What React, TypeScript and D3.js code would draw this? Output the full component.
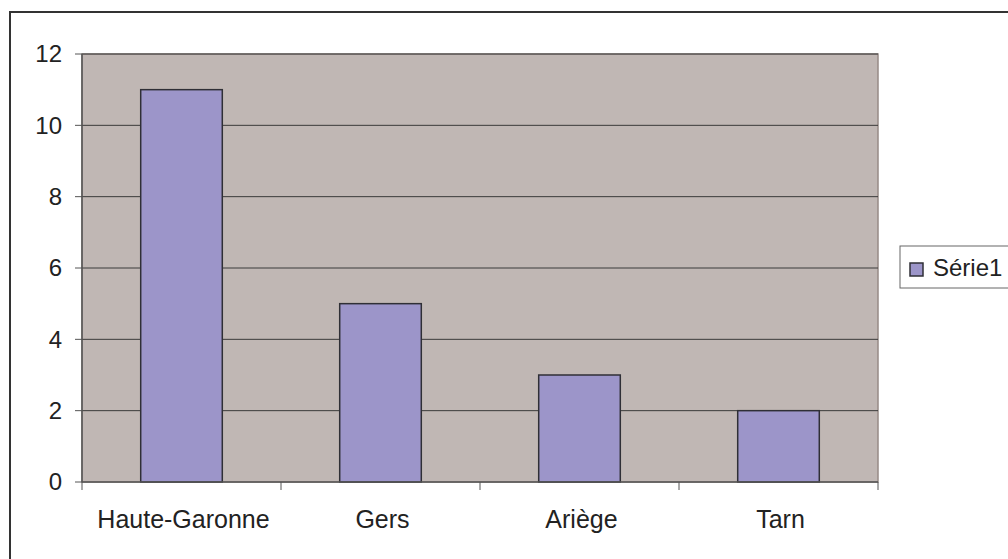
import React from 'react';
import * as d3 from 'd3';

const categories = ['Haute-Garonne', 'Gers', 'Ariège', 'Tarn'];
const values = [11, 5, 3, 2];
const yTicks = [0, 2, 4, 6, 8, 10, 12];
const seriesName = 'Série1';

const width = 1008;
const height = 559;

const plotLeft = 82;
const plotRight = 878;
const plotTop = 54;
const plotBottom = 482;

const App: React.FC = () => {
    const x = d3.scaleBand<string>()
        .domain(categories)
        .range([plotLeft, plotRight])
        .paddingInner(0.59)
        .paddingOuter(0.295);

    const xOuter = d3.scaleBand<string>().domain(categories).range([plotLeft, plotRight]);

    const y = d3.scaleLinear().domain([0, 12]).range([plotBottom, plotTop]);

    const font = '"Liberation Sans", Arial, sans-serif';
    const fontSize = 24;
    const tickEdges = [...categories.map(c => xOuter(c) as number), plotRight];

    return (
        <svg width={width} height={height} style={{ position: 'absolute', left: 0, top: 0 }}>
            <rect x={0} y={0} width={width} height={height} fill="#fff" />
            <rect x={10} y={12} width={1010} height={560} fill="#fff" stroke="#333" strokeWidth={2} />

            <rect x={plotLeft} y={plotTop} width={plotRight - plotLeft} height={plotBottom - plotTop}
                fill="#c0b7b4" stroke="#978a86" strokeWidth={1.5} />

            {yTicks.filter(t => t > 0).map(t => (
                <line key={`g${t}`} x1={plotLeft} x2={plotRight} y1={y(t)} y2={y(t)} stroke="#3a3a3a" strokeWidth={1} />
            ))}

            {categories.map((c, i) => (
                <rect key={c} x={x(c)} y={y(values[i])} width={x.bandwidth()} height={y(0) - y(values[i])}
                    fill="#9c95c9" stroke="#2f2f36" strokeWidth={1.5} />
            ))}

            {/* axes */}
            <line x1={plotLeft} x2={plotLeft} y1={plotTop} y2={plotBottom} stroke="#555" strokeWidth={1.5} />
            <line x1={plotLeft} x2={plotRight} y1={plotBottom} y2={plotBottom} stroke="#555" strokeWidth={1.5} />
            {yTicks.map(t => (
                <g key={`y${t}`}>
                    <line x1={plotLeft - 7} x2={plotLeft} y1={y(t)} y2={y(t)} stroke="#555" strokeWidth={1} />
                    <text x={62} y={y(t)} dy="0.35em" textAnchor="end" fontFamily={font} fontSize={fontSize} fill="#222">{t}</text>
                </g>
            ))}
            {tickEdges.map((e, i) => (
                <line key={`xt${i}`} x1={e} x2={e} y1={plotBottom} y2={plotBottom + 8} stroke="#555" strokeWidth={1} />
            ))}
            {categories.map(c => (
                <text key={`l${c}`} x={(x(c) as number) + x.bandwidth() / 2 + 2} y={528} textAnchor="middle"
                    fontFamily={font} fontSize={25} fill="#222">{c}</text>
            ))}

            {/* legend */}
            <rect x={900} y={246} width={130} height={42} fill="#fff" stroke="#666" strokeWidth={1} />
            <rect x={910} y={263} width={13} height={13} fill="#9c95c9" stroke="#2f2f36" strokeWidth={1.5} />
            <text x={933} y={276} fontFamily={font} fontSize={fontSize} fill="#222">{seriesName}</text>
        </svg>
    );
};

export default App;
